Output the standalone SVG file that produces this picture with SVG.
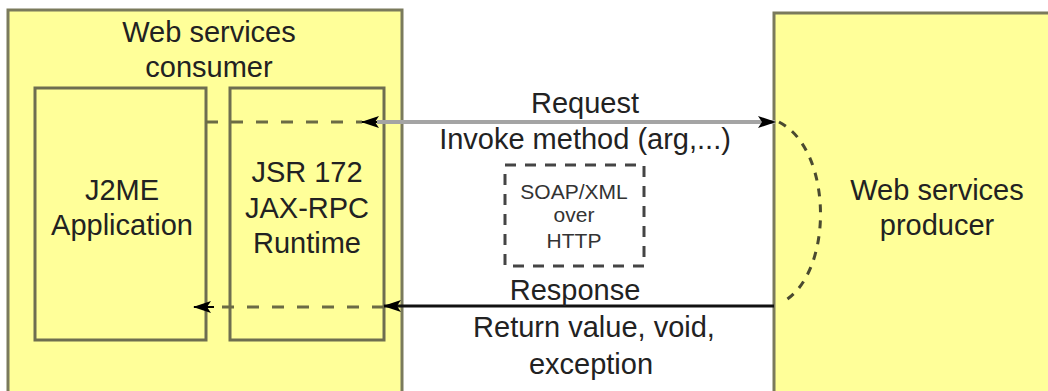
<svg xmlns="http://www.w3.org/2000/svg" width="1048" height="391" viewBox="0 0 1048 391">
<style>
.box{fill:#ffff99;stroke:#6e6e50;stroke-width:3}
.outer{fill:#ffff99;stroke:#7a7a5c;stroke-width:3}
.t{font-family:"Liberation Sans",Arial,sans-serif;font-size:29px;fill:#222;text-anchor:middle}
.s{font-family:"Liberation Sans",Arial,sans-serif;font-size:21px;fill:#333;text-anchor:middle}
.dash{fill:none;stroke:#6b6b45;stroke-width:3;stroke-dasharray:12 13}
</style>
<defs>
<marker id="ah" viewBox="0 0 18 14" refX="17" refY="7" markerWidth="18" markerHeight="14" markerUnits="userSpaceOnUse" orient="auto">
<path d="M0,1 L18,7 L0,13 L4,7 z" fill="#000"/>
</marker>
</defs>
<rect width="1048" height="391" fill="#fff"/>
<g id="consumer">
<rect class="outer" x="8" y="10" width="394" height="400"/>
<text class="t" x="209" y="42">Web services</text>
<text class="t" x="209" y="77">consumer</text>
</g>
<g id="j2me">
<rect class="box" x="35" y="88" width="171" height="252"/>
<text class="t" x="122" y="200">J2ME</text>
<text class="t" x="122" y="235">Application</text>
</g>
<g id="jsr172">
<rect class="box" x="230" y="88" width="154" height="252"/>
<text class="t" x="307" y="182">JSR 172</text>
<text class="t" x="307" y="218">JAX-RPC</text>
<text class="t" x="307" y="253">Runtime</text>
</g>
<g id="producer">
<rect class="outer" x="774" y="13" width="300" height="400"/>
<text class="t" x="937" y="200">Web services</text>
<text class="t" x="937" y="235">producer</text>
</g>
<g id="soap">
<rect x="505" y="165" width="139" height="101" fill="#fff" stroke="#444" stroke-width="3" stroke-dasharray="11 9"/>
<text class="s" x="574" y="199">SOAP/XML</text>
<text class="s" x="574" y="222">over</text>
<text class="s" x="574" y="248">HTTP</text>
</g>
<g id="connectors">
<path class="dash" d="M206,122 H362"/>
<path d="M377,122 H775" stroke="#a4a4a4" stroke-width="4" fill="none" marker-end="url(#ah)"/>
<path d="M377,122 H362" stroke="#000" stroke-width="2" fill="none" marker-end="url(#ah)"/>
<path d="M779,122 C834,150 834,276 781,303" fill="none" stroke="#4a4a30" stroke-width="3" stroke-dasharray="8 8"/>
<path d="M774,306 H384" stroke="#111" stroke-width="3" fill="none" marker-end="url(#ah)"/>
<path class="dash" d="M384,307 H214"/>
<path d="M214,307 H194" stroke="#000" stroke-width="2" fill="none" marker-end="url(#ah)"/>
</g>
<g id="labels">
<text class="t" x="585" y="113">Request</text>
<text class="t" x="585" y="149">Invoke method (arg,...)</text>
<text class="t" x="575" y="300">Response</text>
<text class="t" x="594" y="337">Return value, void,</text>
<text class="t" x="591" y="374">exception</text>
</g>
</svg>
